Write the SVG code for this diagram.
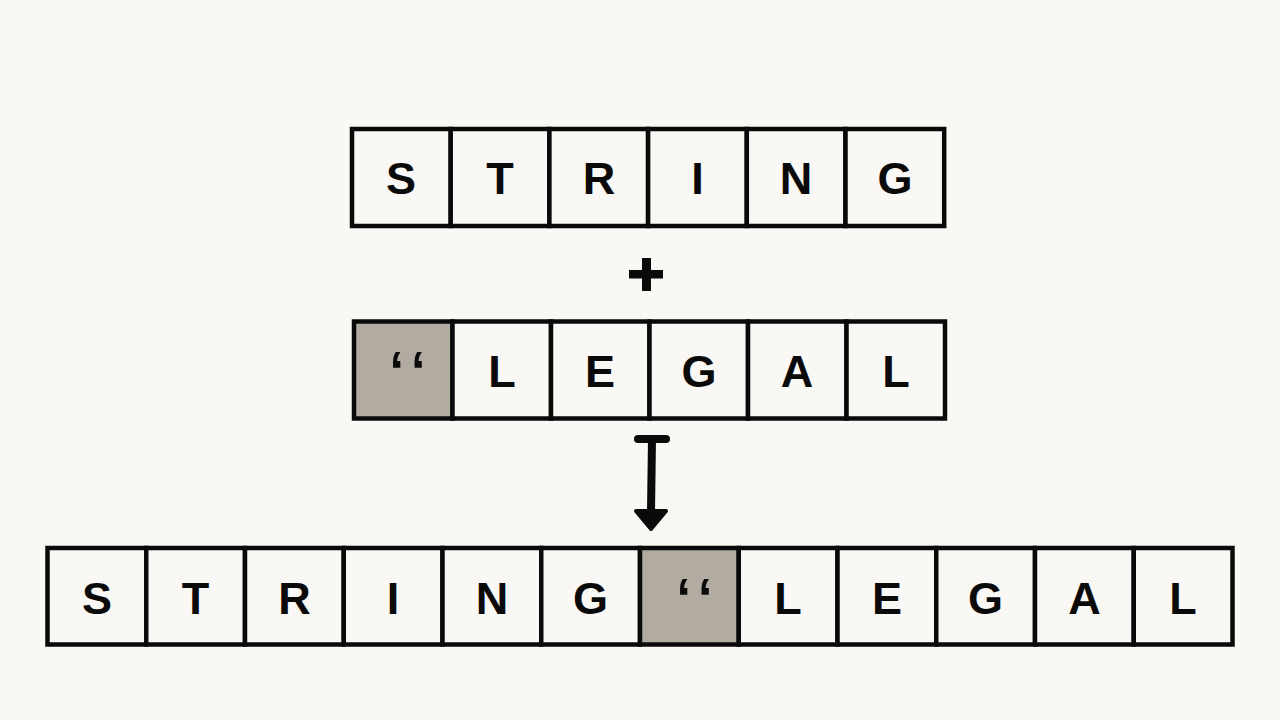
<svg xmlns="http://www.w3.org/2000/svg" width="1280" height="720" viewBox="0 0 1280 720">
<style>
.c{fill:#faf8f4;stroke:#0a0a0a;stroke-width:4.5}
.g{fill:#b2aba2;stroke:#0a0a0a;stroke-width:4.5}
.t{font-family:"Liberation Sans",Arial,sans-serif;font-weight:700;font-size:45px;fill:#0a0a0a;text-anchor:middle}
.q{font-family:"Liberation Sans",Arial,sans-serif;font-weight:700;font-size:52px;fill:#0a0a0a;text-anchor:middle;letter-spacing:9px}
</style>
<rect width="1280" height="720" fill="#faf8f4"/>
<g id="row-string">
<rect class="c" x="352" y="129" width="98.7" height="97"/>
<rect class="c" x="450.7" y="129" width="98.7" height="97"/>
<rect class="c" x="549.4" y="129" width="98.7" height="97"/>
<rect class="c" x="648.1" y="129" width="98.7" height="97"/>
<rect class="c" x="746.8" y="129" width="98.7" height="97"/>
<rect class="c" x="845.5" y="129" width="98.7" height="97"/>
<text class="t" x="401" y="194">S</text>
<text class="t" x="500" y="194">T</text>
<text class="t" x="599" y="194">R</text>
<text class="t" x="697.5" y="194">I</text>
<text class="t" x="796" y="194">N</text>
<text class="t" x="895" y="194">G</text>
</g>
<g id="plus">
<rect x="629" y="270" width="34" height="8.5" fill="#0a0a0a"/>
<rect x="642" y="258" width="9" height="33" fill="#0a0a0a"/>
</g>
<g id="row-legal">
<rect class="g" x="354" y="321.5" width="98.5" height="97"/>
<rect class="c" x="452.5" y="321.5" width="98.5" height="97"/>
<rect class="c" x="551" y="321.5" width="98.5" height="97"/>
<rect class="c" x="649.5" y="321.5" width="98.5" height="97"/>
<rect class="c" x="748" y="321.5" width="98.5" height="97"/>
<rect class="c" x="846.5" y="321.5" width="98.5" height="97"/>
<text class="q" x="412" y="388">‘‘</text>
<text class="t" x="502" y="387">L</text>
<text class="t" x="600" y="387">E</text>
<text class="t" x="699" y="387">G</text>
<text class="t" x="797" y="387">A</text>
<text class="t" x="896" y="387">L</text>
</g>
<g id="connectors">
<line x1="638" y1="439" x2="666" y2="439" stroke="#0a0a0a" stroke-width="8" stroke-linecap="round"/>
<line x1="652" y1="439" x2="651" y2="512" stroke="#0a0a0a" stroke-width="8"/>
<polygon points="636,511 666,511 651,529" fill="#0a0a0a" stroke="#0a0a0a" stroke-width="4" stroke-linejoin="round"/>
</g>
<g id="row-result">
<rect class="c" x="47.5" y="548" width="98.75" height="96.5"/>
<rect class="c" x="146.25" y="548" width="98.75" height="96.5"/>
<rect class="c" x="245" y="548" width="98.75" height="96.5"/>
<rect class="c" x="343.75" y="548" width="98.75" height="96.5"/>
<rect class="c" x="442.5" y="548" width="98.75" height="96.5"/>
<rect class="c" x="541.25" y="548" width="98.75" height="96.5"/>
<rect class="g" x="640" y="548" width="98.75" height="96.5"/>
<rect class="c" x="738.75" y="548" width="98.75" height="96.5"/>
<rect class="c" x="837.5" y="548" width="98.75" height="96.5"/>
<rect class="c" x="936.25" y="548" width="98.75" height="96.5"/>
<rect class="c" x="1035" y="548" width="98.75" height="96.5"/>
<rect class="c" x="1133.75" y="548" width="98.75" height="96.5"/>
<text class="t" x="96.9" y="614">S</text>
<text class="t" x="195.6" y="614">T</text>
<text class="t" x="294.4" y="614">R</text>
<text class="t" x="393.1" y="614">I</text>
<text class="t" x="491.9" y="614">N</text>
<text class="t" x="590.6" y="614">G</text>
<text class="q" x="699" y="615">‘‘</text>
<text class="t" x="788.1" y="614">L</text>
<text class="t" x="886.9" y="614">E</text>
<text class="t" x="985.6" y="614">G</text>
<text class="t" x="1084.4" y="614">A</text>
<text class="t" x="1183.1" y="614">L</text>
</g>
</svg>
